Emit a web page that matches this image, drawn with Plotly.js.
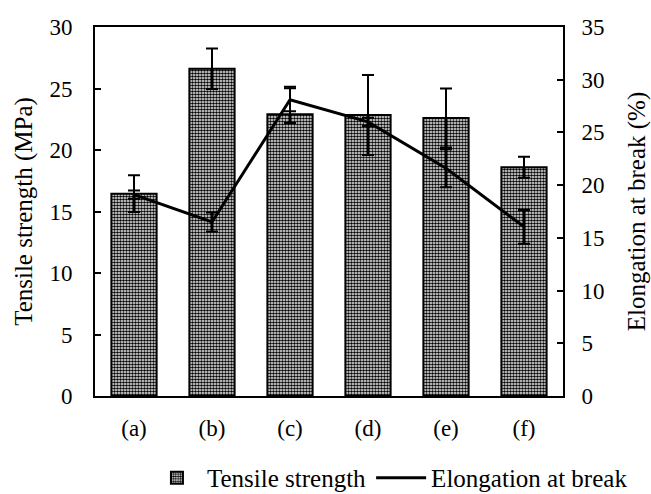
<!DOCTYPE html>
<html>
<head>
<meta charset="utf-8">
<script src="https://cdn.plot.ly/plotly-3.0.1.min.js"></script>
<style>html,body{margin:0;padding:0;background:#fff;}#chart{width:651px;height:494px;}</style>
</head>
<body>
<div id="chart"></div>
<script>
const categories = ['(a)', '(b)', '(c)', '(d)', '(e)', '(f)'];
const tensileStrength = [16.45, 26.6, 22.9, 22.85, 22.6, 18.6];
const tensileErrPlus = [1.5, 1.65, 2.25, 3.25, 2.4, 0.85];
const tensileErrMinus = [1.5, 1.65, 0.7, 3.25, 2.4, 0.85];
const elongation = [19.1, 16.5, 28.1, 26.0, 21.6, 16.05];
const elongationErr = [0.4, 0.9, 1.1, 0.4, 1.8, 1.6];

const FAM = 'Liberation Serif';
function tickFont() { return {family: FAM, size: 23, color: '#000000'}; }
function titleFont() { return {family: FAM, size: 25, color: '#000000'}; }

const traces = [
  {
    type: 'bar',
    name: 'Tensile strength',
    legend: 'legend',
    x: categories,
    y: tensileStrength,
    yaxis: 'y',
    marker: {
      color: '#ffffff',
      line: {color: '#000000', width: 2},
      pattern: {shape: '.', fgcolor: '#000000', bgcolor: '#ffffff', size: 3, solidity: 0.6}
    },
    error_y: {
      type: 'data', symmetric: false,
      array: tensileErrPlus, arrayminus: tensileErrMinus,
      color: '#000000', thickness: 2, width: 6
    }
  },
  {
    type: 'scatter',
    mode: 'lines',
    name: 'Elongation at break',
    legend: 'legend2',
    x: categories,
    y: elongation,
    yaxis: 'y2',
    line: {color: '#000000', width: 3},
    error_y: {
      type: 'data', array: elongationErr,
      color: '#000000', thickness: 2, width: 6
    }
  }
];

const legendBase = {
  orientation: 'h',
  xanchor: 'left',
  y: -0.222, yanchor: 'middle',
  bgcolor: 'rgba(0,0,0,0)',
  itemwidth: 50
};

const layout = {
  width: 651,
  height: 494,
  margin: {l: 95, r: 88, t: 27, b: 98, autoexpand: false},
  paper_bgcolor: '#ffffff',
  plot_bgcolor: '#ffffff',
  font: {family: FAM, size: 23, color: '#000000'},
  bargap: 0.42,
  showlegend: true,
  legend: Object.assign({}, legendBase, {x: 0.111, font: titleFont()}),
  legend2: Object.assign({}, legendBase, {x: 0.59, font: titleFont()}),
  xaxis: {
    type: 'category',
    showline: true, linecolor: '#000000', linewidth: 2, mirror: true,
    ticks: '', showgrid: false, zeroline: false,
    ticklabelstandoff: 10,
    tickfont: tickFont()
  },
  yaxis: {
    range: [0, 30], dtick: 5, tick0: 0,
    showline: true, linecolor: '#000000', linewidth: 2,
    ticks: 'inside', ticklen: 6, tickwidth: 2, tickcolor: '#000000',
    showgrid: false, zeroline: false,
    ticklabelstandoff: 16,
    tickfont: tickFont(),
    title: {text: 'Tensile strength (MPa)', font: titleFont(), standoff: 10}
  },
  yaxis2: {
    overlaying: 'y', side: 'right',
    range: [0, 35], dtick: 5, tick0: 0,
    showline: true, linecolor: '#000000', linewidth: 2,
    ticks: 'inside', ticklen: 6, tickwidth: 2, tickcolor: '#000000',
    showgrid: false, zeroline: false,
    ticklabelstandoff: 12,
    tickfont: tickFont(),
    title: {text: 'Elongation at break (%)', font: titleFont(), standoff: 24}
  }
};

Plotly.newPlot('chart', traces, layout, {displayModeBar: false, staticPlot: true});
</script>
</body>
</html>
